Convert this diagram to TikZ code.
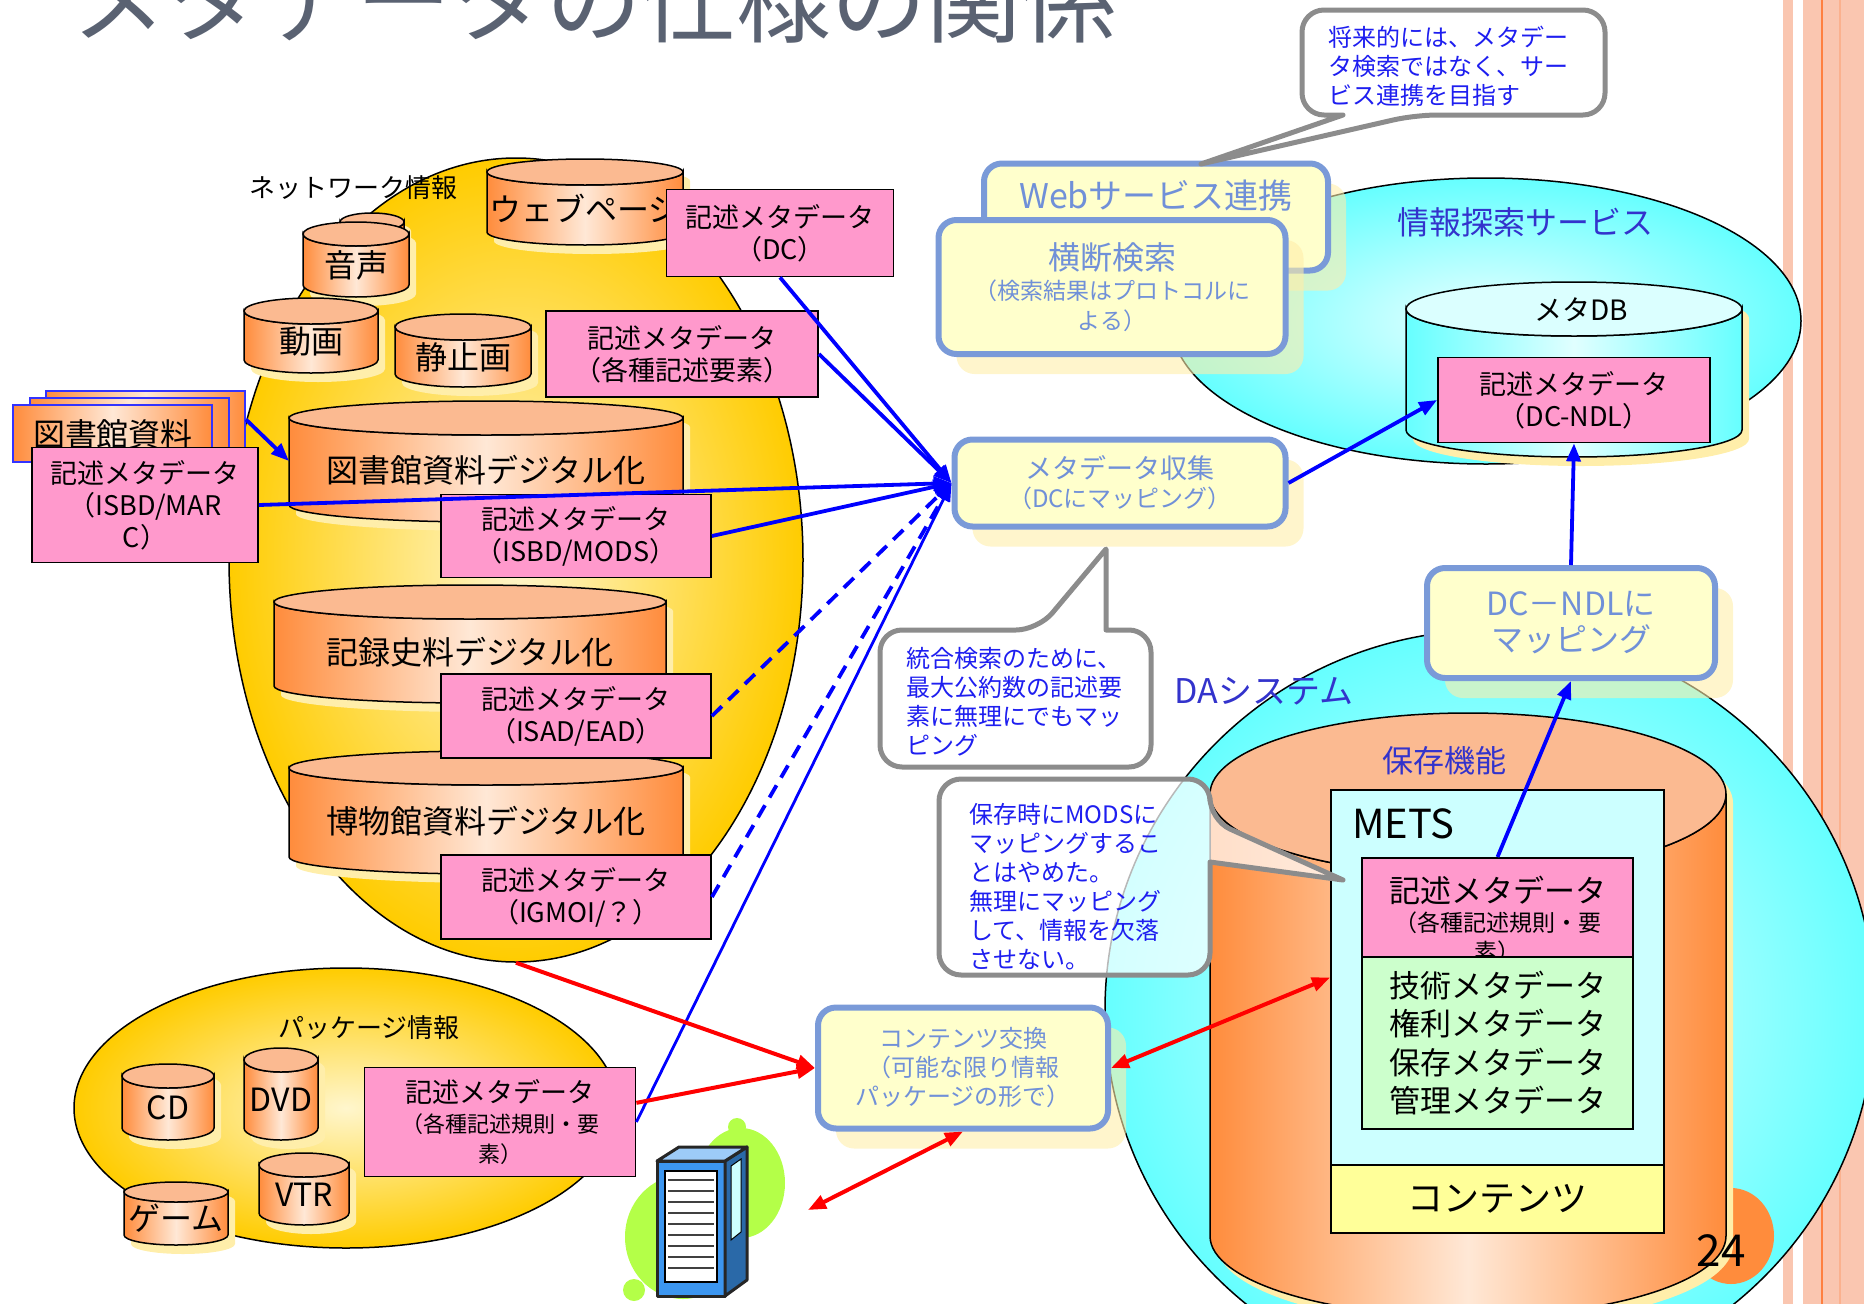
\documentclass[tikz,border=0pt]{standalone}
\usepackage{fontspec}
\setmainfont{Noto Sans CJK JP}
\usetikzlibrary{arrows.meta, positioning, shapes.geometric, shadows}

\definecolor{titlegray}{RGB}{90,98,114}
\definecolor{eggyellow}{RGB}{255,204,0}
\definecolor{goldlight}{RGB}{255,246,205}
\definecolor{drum}{RGB}{255,140,60}
\definecolor{drumlight}{RGB}{255,232,214}
\definecolor{drumtop}{RGB}{251,186,145}
\definecolor{metapink}{RGB}{255,153,204}
\definecolor{sky}{RGB}{102,255,255}
\definecolor{skylight}{RGB}{204,255,255}
\definecolor{flowline}{RGB}{122,154,216}
\definecolor{flowfill}{RGB}{255,255,204}
\definecolor{flowtext}{RGB}{112,144,216}
\definecolor{shadowy}{RGB}{255,238,170}
\definecolor{calloutgray}{RGB}{140,140,140}
\definecolor{callouttext}{RGB}{30,30,240}
\definecolor{labelblue}{RGB}{51,51,204}
\definecolor{techgreen}{RGB}{204,255,204}
\definecolor{contyellow}{RGB}{255,255,153}
\definecolor{stripe}{RGB}{250,198,176}
\definecolor{stripeline}{RGB}{255,128,64}
\definecolor{blobgreen}{RGB}{180,255,72}
\definecolor{rack}{RGB}{60,150,240}

\newcommand\fsz[2]{\fontsize{#1}{#2}\selectfont}

% drum: [colour set]{name}{cx}{half width}{top y}{bottom y}{y radius}{text}
\newcommand\drum[8][orange]{%
  \begin{scope}[shift={(7,9)}]
    \fill[shadowy] (#3-#4,#5) -- (#3-#4,#6)
      arc[start angle=180, end angle=0, x radius=#4, y radius=#7]
      -- (#3+#4,#5) arc[start angle=0, end angle=-180, x radius=#4, y radius=#7] -- cycle;
  \end{scope}
  \draw[#1body, line width=1.5pt] (#3-#4,#5) -- (#3-#4,#6)
    arc[start angle=180, end angle=0, x radius=#4, y radius=#7]
    -- (#3+#4,#5) arc[start angle=0, end angle=180, x radius=#4, y radius=#7] -- cycle;
  \draw[#1cap, line width=1.5pt] (#3,#5) ellipse[x radius=#4, y radius=#7];
  \node[drumtxt] (#2) at (#3,{(#5+#6)/2+#7/2}) {#8};
}

\begin{document}
\begin{tikzpicture}[
  x=1pt, y=-1pt,
  every node/.style={inner sep=0pt},
  region/.style={ellipse, draw, line width=1.5pt},
  sea/.style={region, inner color=skylight!40!white, outer color=sky},
  sand/.style={region, inner color=goldlight, outer color=eggyellow},
  orangebody/.style={left color=drum, right color=drum, middle color=drumlight},
  orangecap/.style={fill=drumtop},
  skybody/.style={left color=sky, right color=sky, middle color=skylight!60!white},
  skycap/.style={fill=skylight!70!white},
  drumtxt/.style={font=\fsz{32}{36}},
  docsheet/.style={draw=blue!80, line width=2pt, left color=drum, right color=drum,
                   middle color=drumlight, minimum width=199pt, minimum height=57pt},
  metabox/.style={draw=black, line width=1.8pt, fill=metapink, align=center,
                  font=\fsz{27}{32}},
  flowbox/.style={draw=flowline, line width=6pt, fill=flowfill, rounded corners=18pt,
                  text=flowtext, align=center,
                  drop shadow={shadow xshift=18pt, shadow yshift=-20pt, fill=shadowy, opacity=.6}},
  callout/.style={draw=calloutgray, line width=5pt, fill=white, line join=round},
  callouttxt/.style={text=callouttext, align=left, anchor=north west, font=\fsz{24}{29}},
  tag/.style={text=labelblue, font=\fsz{32}{36}},
  link/.style={blue, line width=3.8pt, -{Triangle[length=18pt, width=14pt]}},
  feed/.style={red, line width=4pt, -{Triangle[length=18pt, width=14pt]}},
  swap/.style={red, line width=4pt,
               {Triangle[length=18pt, width=14pt]}-{Triangle[length=18pt, width=14pt]}}
]
\useasboundingbox (0,0) rectangle (1864,1304);

% page edge
\fill[stripe] (1783,0) rectangle (1864,1304);
\fill[white] (1793,0) rectangle (1803,1304);
\draw[stripeline, line width=2pt] (1822,0) -- (1822,1304);
\draw[stripe!70!stripeline, line width=1.5pt] (1840,0) -- (1840,1304);

\node[anchor=base west, text=titlegray, font=\fsz{95}{100}] (title) at (71,35) {メタデータの仕様の関係};

% regions
\node[sea, minimum width=770pt, minimum height=760pt] (dasys) at (1490,1010) {};
\node[sea, minimum width=630pt, minimum height=286pt] (infosvc) at (1486,321) {};
\node[sand, minimum width=574pt, minimum height=804pt] (netinfo) at (516,560) {};
\node[sand, minimum width=544pt, minimum height=280pt] (pkginfo) at (346,1108) {};

% network information
\drum{hiddendrum}{372}{32}{222}{260}{9}{}
\drum{webpage}{585}{98}{172}{232}{13}{ウェブページ}
\drum{onsei}{356}{53}{234}{285}{12}{音声}
\drum{douga}{311}{67}{311}{360}{13}{動画}
\drum{seishi}{463}{68}{327}{374}{13}{静止画}
\drum{toshodigi}{486}{197}{418}{505}{17}{図書館資料デジタル化}
\drum{kirokudigi}{470}{196}{602}{686}{17}{記録史料デジタル化}
\drum{hakudigi}{486}{197}{768}{857}{17}{博物館資料デジタル化}
\coordinate (toshoside) at (289,461);
\node[font=\fsz{26}{30}] (netinfotxt) at (353,188) {ネットワーク情報};

\foreach \dx/\dy/\nm in {45/390/libback, 29/397/libmid, 12/404/libfront}
  \node[docsheet, anchor=north west] (\nm) at (\dx,\dy) {};
\node[drumtxt] (libtxt) at (113,434) {図書館資料};

\node[metabox, minimum width=227pt, minimum height=87pt] (dcmeta) at (780,233) {記述メタデータ\\（DC）};
\node[metabox, minimum width=272pt, minimum height=86pt] (elemmeta) at (682,354) {記述メタデータ\\（各種記述要素）};
\node[metabox, minimum width=226pt, minimum height=115pt] (marcmeta) at (145,505) {記述メタデータ\\（ISBD/MAR\\C）};
\node[metabox, minimum width=270pt, minimum height=83pt] (modsmeta) at (576,536) {記述メタデータ\\（ISBD/MODS）};
\node[metabox, minimum width=270pt, minimum height=84pt] (eadmeta) at (576,716) {記述メタデータ\\（ISAD/EAD）};
\node[metabox, minimum width=270pt, minimum height=84pt] (igmoimeta) at (576,897) {記述メタデータ\\（IGMOI/？）};

% package information
\drum{cd}{168}{46}{1076}{1128}{12}{CD}
\drum{dvd}{281}{37}{1060}{1128}{12}{DVD}
\drum{vtr}{304}{45}{1165}{1213}{12}{VTR}
\drum{game}{176}{52}{1192}{1235}{10}{ゲーム}
\node[font=\fsz{26}{30}] (pkginfotxt) at (369,1028) {パッケージ情報};
\node[metabox, minimum width=271pt, minimum height=109pt, font=\fsz{22}{30}] (pkgmeta) at (500,1122)
  {{\fsz{27}{30}記述メタデータ}\\（各種記述規則・要\\素）};

% server
\fill[blobgreen] (683,1237) ellipse[x radius=58, y radius=62];
\fill[blobgreen] (741,1183) ellipse[x radius=44, y radius=55];
\fill[blobgreen] (737,1127) circle[radius=9];
\fill[blobgreen] (634,1290) circle[radius=11];
\filldraw[fill=rack, draw=black!85, line width=3pt, line join=round]
  (657,1161) -- (725,1161) -- (725,1296) -- (657,1296) -- cycle;
\filldraw[fill=rack!70!black, draw=black!85, line width=3pt, line join=round]
  (725,1161) -- (747,1147) -- (747,1280) -- (725,1296) -- cycle;
\filldraw[fill=rack!50!white, draw=black!85, line width=3pt, line join=round]
  (657,1161) -- (679,1147) -- (747,1147) -- (725,1161) -- cycle;
\filldraw[fill=white, draw=black, line width=1.5pt] (665,1171) rectangle (717,1282);
\foreach \k in {0,...,8}
  \draw[black!75, line width=2pt] (668,{1180+\k*11}) -- (714,{1180+\k*11});
\filldraw[fill=skylight, draw=black, line width=1pt] (731,1166) -- (741,1159) -- (741,1232) -- (731,1240) -- cycle;
\coordinate (server) at (808,1210);

% information search service
\drum[sky]{metadb}{1574}{168}{309}{430}{27}{}
\node[font=\fsz{28}{32}] (metadbtxt) at (1581,310) {メタDB};
\node[metabox, minimum width=272pt, minimum height=85pt] (dcndlmeta) at (1574,400) {記述メタデータ\\（DC-NDL）};
\node[tag] (infosvctxt) at (1525,222) {情報探索サービス};

% DA system
\fill[drum] (1731,1236) ellipse[x radius=43, y radius=48];
\drum{hozon}{1468}{258}{794}{1236}{81}{}
\node[tag, font=\fsz{34}{38}] (dasystxt) at (1264,691) {DAシステム};
\node[tag, font=\fsz{31}{36}] (hozontxt) at (1444,761) {保存機能};
\node[draw, line width=2pt, fill=skylight, minimum width=333pt, minimum height=375pt] (mets) at (1497.5,977.5) {};
\node[anchor=west, font=\fsz{40}{44}] (metstxt) at (1352,824) {METS};
\node[metabox, line width=2pt, minimum width=271pt, minimum height=122pt, font=\fsz{23}{29}] (metsmeta) at (1497.5,919)
  {{\fsz{31}{36}記述メタデータ}\\（各種記述規則・要\\素）};
\node[draw, line width=2pt, fill=techgreen, minimum width=271pt, minimum height=172pt, align=center,
      font=\fsz{31}{38.5}] (techmeta) at (1497.5,1043) {技術メタデータ\\権利メタデータ\\保存メタデータ\\管理メタデータ};
\node[draw, line width=2pt, fill=contyellow, minimum width=333pt, minimum height=68pt, font=\fsz{36}{40}]
  (contents) at (1497.5,1199) {コンテンツ};
\node[font=\fsz{44}{48}] (pageno) at (1721,1251) {24};

% services and mapping steps
\node[flowbox, minimum width=344pt, minimum height=107pt] (websvc) at (1156,217) {};
\node[below=19pt of websvc.north, text=flowtext, font=\fsz{34}{40}] (websvctxt) {Webサービス連携};
\node[flowbox, minimum width=347pt, minimum height=134pt, font=\fsz{23}{30}] (crosssearch) at (1112,287)
  {{\fsz{32}{36}横断検索}\\（検索結果はプロトコルに\\よる）};
\node[flowbox, minimum width=331pt, minimum height=87pt, font=\fsz{24}{29}] (collect) at (1120,483)
  {{\fsz{27}{30}メタデータ収集}\\（DCにマッピング）};
\node[flowbox, minimum width=288pt, minimum height=110pt, font=\fsz{32}{36}] (dcmap) at (1571,623) {DC－NDLに\\マッピング};
\node[flowbox, minimum width=290pt, minimum height=121pt, font=\fsz{24}{29}] (exchange) at (963,1068)
  {コンテンツ交換\\（可能な限り情報\\パッケージの形で）};

% callouts
\draw[callout] (1302,62) [rounded corners=22pt] -- (1302,10) -- (1605,10) -- (1605,115) -- (1415,115)
  [sharp corners] -- (1201,164) -- (1343,115) [rounded corners=22pt] -- (1302,115) -- cycle;
\node[callouttxt] (futurenote) at (1328,26) {将来的には、メタデー\\タ検索ではなく、サー\\ビス連携を目指す};

\draw[callout] (880,700) [rounded corners=22pt] -- (880,630) -- (1038,630)
  [sharp corners] -- (1106,549) -- (1106,630) [rounded corners=22pt] -- (1151,630) -- (1151,767) -- (880,767) -- cycle;
\node[callouttxt] (mergenote) at (906,647) {統合検索のために、\\最大公約数の記述要\\素に無理にでもマッ\\ピング};

\draw[callout, fill opacity=.72] (939,880) [rounded corners=22pt] -- (939,779) -- (1210,779) -- (1210,820)
  [sharp corners] -- (1343,880) -- (1210,862) [rounded corners=22pt] -- (1210,975) -- (939,975) -- cycle;
\node[callouttxt] (keepnote) at (969,803) {保存時にMODSに\\マッピングするこ\\とはやめた。\\無理にマッピング\\して、情報を欠落\\させない。};

% metadata flow
\draw[link] (dcmeta.south) -- (collect.west);
\draw[link] (elemmeta.east) -- (collect.west);
\draw[link] (marcmeta.east) -- (collect.west);
\draw[link] (modsmeta.east) -- (collect.west);
\draw[link, dash pattern=on 14pt off 9pt] (eadmeta.east) -- (collect.west);
\draw[link, dash pattern=on 14pt off 9pt] (igmoimeta.east) -- (collect.west);
\draw[link, line width=2.8pt] (pkgmeta.east) -- (collect.west);
\draw[link] (libback.east) -- (toshoside);
\draw[link] (collect.east) -- (dcndlmeta.west);
\draw[link] (dcmap.north) -- (dcndlmeta.south);
\draw[link] (metsmeta.north) -- (dcmap.south);

% content exchange
\draw[feed] (netinfo.south) -- (exchange.west);
\draw[feed] (pkgmeta.8) -- (exchange.west);
\draw[swap] (exchange.east) -- (mets.west);
\draw[swap] (exchange.south) -- (server);

\end{tikzpicture}
\end{document}
